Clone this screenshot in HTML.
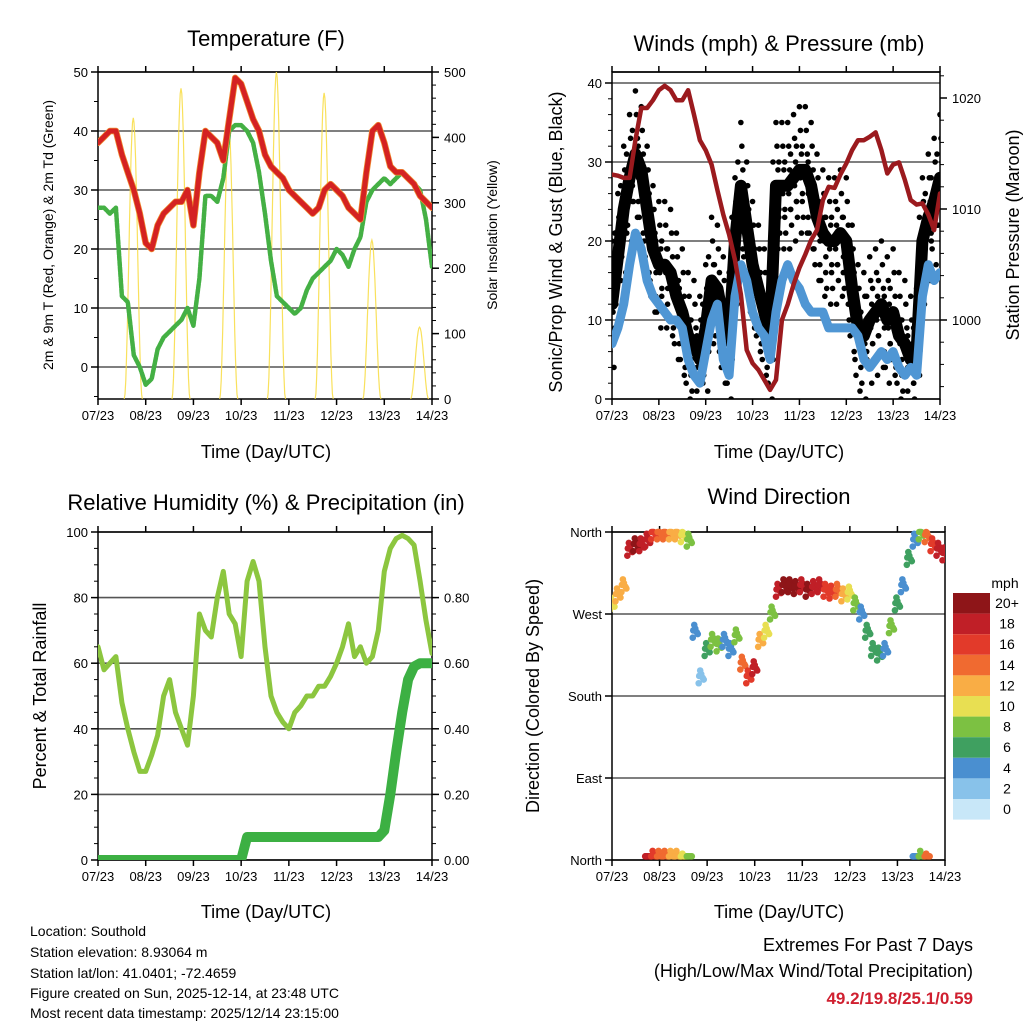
<!DOCTYPE html>
<html><head><meta charset="utf-8"><style>
html,body{margin:0;padding:0;background:#fff}
svg{display:block;font-family:"Liberation Sans",Arial,sans-serif}
</style></head><body>
<svg id="chart" width="1024" height="1024" viewBox="0 0 1024 1024" xmlns="http://www.w3.org/2000/svg">
<defs>
<clipPath id="c1"><rect x="98" y="72" width="334" height="327"/></clipPath>
<clipPath id="c2"><rect x="612" y="72" width="328" height="327"/></clipPath>
<clipPath id="c3"><rect x="98" y="532" width="334" height="328"/></clipPath>
<clipPath id="c4"><rect x="612" y="527" width="333" height="338"/></clipPath>
</defs>
<g font-size="22" text-anchor="middle" fill="#000">
<text x="266" y="46">Temperature (F)</text>
<text x="779" y="51">Winds (mph) &amp; Pressure (mb)</text>
<text x="266" y="510">Relative Humidity (%) &amp; Precipitation (in)</text>
<text x="779" y="504">Wind Direction</text>
</g>
<g font-size="18" text-anchor="middle">
<text x="266" y="458">Time (Day/UTC)</text>
<text x="779" y="458">Time (Day/UTC)</text>
<text x="266" y="918">Time (Day/UTC)</text>
<text x="779" y="918">Time (Day/UTC)</text>
<text transform="translate(53,235) rotate(-90)" font-size="14">2m &amp; 9m T (Red, Orange) &amp; 2m Td (Green)</text>
<text transform="translate(497,235) rotate(-90)" font-size="14">Solar Insolation (Yellow)</text>
<text transform="translate(562,242) rotate(-90)">Sonic/Prop Wind &amp; Gust (Blue, Black)</text>
<text transform="translate(1019,235) rotate(-90)">Station Pressure (Maroon)</text>
<text transform="translate(46,696) rotate(-90)">Percent &amp; Total Rainfall</text>
<text transform="translate(539,696) rotate(-90)">Direction (Colored By Speed)</text>
</g>
<g font-size="14">
<text x="30" y="936">Location: Southold</text>
<text x="30" y="957">Station elevation: 8.93064 m</text>
<text x="30" y="978">Station lat/lon: 41.0401; -72.4659</text>
<text x="30" y="998">Figure created on Sun, 2025-12-14, at 23:48 UTC</text>
<text x="30" y="1018">Most recent data timestamp: 2025/12/14 23:15:00</text>
</g>
<g font-size="18" text-anchor="end">
<text x="973" y="951">Extremes For Past 7 Days</text>
<text x="973" y="977">(High/Low/Max Wind/Total Precipitation)</text>
<text x="973" y="1004" font-size="17" font-weight="bold" fill="#d02030">49.2/19.8/25.1/0.59</text>
</g>
<g id="layer"></g>
</svg>
<script>
const dayLabels=['07/23','08/23','09/23','10/23','11/23','12/23','13/23','14/23'];
const tempRed=[38,39,40,40,36,33,30,26,21,20,24,26,27,28,28,30,24,33,40,39,38,35,42,49,48,45,42,40,36,34,33,32,30,29,28,27,26,27,30,31,30,29,27,26,25,33,40,41,38,34,33,33,32,31,29,28,27];
const dewGreen=[27,27,26,27,12,11,2,0,-3,-2,3,5,6,7,8,10,7,15,29,29,28,32,40,41,41,40,38,33,26,18,12,11,10,9,10,13,15,16,17,18,20,19,17,20,22,28,30,31,32,31,32,33,32,31,30,25,17];
const solarPeak=[430,475,420,500,468,243,110];
const windSpeed=[7,9,12,17,21,19,15,13,12,11,10,10,9,5,3,2,6,10,12,5,3,13,17,15,11,9,8,5,11,15,17,15,14,12,11,11,11,9,9,9,9,9,8,5,4,5,6,5,6,4,3,4,3,13,17,15,16];
const gustSpeed=[12,18,24,28,31,29,24,19,17,17,16,13,11,8,7,5,9,15,14,10,8,20,27,22,17,14,11,8,27,27,27,28,29,29,27,23,21,20,20,21,20,14,9,8,10,11,12,10,11,8,7,5,6,20,23,25,28];
const pressureMb=[1013.1,1013.0,1012.8,1012.8,1016.2,1019.1,1019.1,1019.8,1020.7,1021.1,1020.7,1019.8,1019.8,1020.7,1018.5,1016.2,1015.3,1014.0,1011.7,1009.5,1007.7,1005.4,1002.3,997.3,996.1,995.5,994.6,993.7,994.6,1000.0,1001.4,1003.2,1004.7,1005.9,1007.2,1008.1,1010.8,1012.0,1011.9,1013.1,1014.1,1015.3,1016.2,1016.2,1016.5,1016.9,1015.3,1013.2,1014.0,1014.2,1012.6,1010.8,1010.4,1010.5,1009.5,1008.1,1011.4];
const rhPct=[65,58,60,62,48,40,33,27,27,32,38,50,55,45,40,35,50,75,70,68,80,88,75,72,62,85,91,85,65,50,45,42,40,45,47,50,50,53,53,56,60,65,72,62,65,60,62,70,88,95,98,99,98,96,85,73,63];
const precipIn=[0,0,0,0,0,0,0,0,0,0,0,0,0,0,0,0,0,0,0,0,0,0,0,0,0,0.07,0.07,0.07,0.07,0.07,0.07,0.07,0.07,0.07,0.07,0.07,0.07,0.07,0.07,0.07,0.07,0.07,0.07,0.07,0.07,0.07,0.07,0.07,0.09,0.2,0.33,0.45,0.55,0.59,0.6,0.6,0.6];
const dirDeg=[280,290,300,340,345,345,350,358,358,358,358,358,355,350,250,200,230,240,235,240,230,245,215,200,210,240,250,270,295,300,300,298,300,295,298,300,295,293,295,290,292,280,270,250,230,225,230,255,280,300,330,350,358,355,345,340,335];
const dirSpd=[10,11,12,18,20,18,18,16,14,13,12,12,10,8,3,2,6,7,8,3,4,8,14,16,17,12,10,8,18,20,19,20,18,19,18,17,16,15,14,12,10,8,4,6,6,5,4,8,6,3,6,4,8,14,16,18,18];
const tLeftTicks=[0,10,20,30,40,50];
const tRightTicks=[0,100,200,300,400,500];
const wLeftTicks=[0,10,20,30,40];
const pRightTicks=[1000,1010,1020];
const rhTicks=[0,20,40,60,80,100];
const prTicks=['0.00','0.20','0.40','0.60','0.80'];
const dirTicks=['North','East','South','West','North'];
const legendLabels=['20+','18','16','14','12','10','8','6','4','2','0'];

const NS='http://www.w3.org/2000/svg';
const layer=document.getElementById('layer');
function mk(tag,a,p){const e=document.createElementNS(NS,tag);for(const k in a)e.setAttribute(k,a[k]);(p||layer).appendChild(e);return e;}
const N=tempRed.length-1;
const P1={x0:98,x1:432,y0:72,y1:399}, P2={x0:612,x1:940,y0:72,y1:399}, P3={x0:98,x1:432,y0:532,y1:860}, P4={x0:612,x1:945,y0:532,y1:860};
function tx(P,i){return P.x0+i/N*(P.x1-P.x0);}
const yT=v=>367-v*5.9, yS=v=>399-v*0.654, yW=v=>399-v*7.9, yP=p=>320-(p-1000)*11.1;
const yRH=v=>860-v*3.28, yPr=v=>860-v*328, yD=d=>860-d*328/360;
const speedColors=['#8e1518','#c01f27','#e23a2a','#f06a30','#f9ad45','#e8df52','#7cc142','#3fa060','#4a8fd0','#88c2ea','#c8e7f8'];
function spdColor(s){let k=Math.round(Math.min(s,20)/2);return speedColors[10-k];}

function frame(P,name,gridVals,gy){
  const g=mk('g',{});
  
  
  gridVals.forEach(v=>{mk('line',{x1:P.x0,x2:P.x1,y1:gy(v),y2:gy(v),stroke:'#555','stroke-width':1.6},g);});
  const r=mk('rect',{x:P.x0,y:P.y0,width:P.x1-P.x0,height:P.y1-P.y0,fill:'none',stroke:'#000','stroke-width':1.5});
  
  
  const xa=mk('g',{'font-size':13,'text-anchor':'middle'});
  
  
  dayLabels.forEach((l,d)=>{const x=P.x0+d/7*(P.x1-P.x0);
    mk('line',{x1:x,x2:x,y1:P.y1,y2:P.y1+6,stroke:'#000','stroke-width':1.5},xa);
    mk('line',{x1:x,x2:x,y1:P.y0,y2:P.y0-6,stroke:'#000','stroke-width':1.5},xa);
    const t=mk('text',{x:x,y:P.y1+21},xa);t.textContent=l;});
}
function leftAxis(P,name,vals,f,labels,minorStep,minorFrom,minorTo){
  const g=mk('g',{'font-size':13,'text-anchor':'end'});
  
  
  vals.forEach((v,k)=>{const y=f(v);mk('line',{x1:P.x0-7,x2:P.x0,y1:y,y2:y,stroke:'#000','stroke-width':1.5},g);
    const t=mk('text',{x:P.x0-10,y:y+5},g);t.textContent=labels?labels[k]:v;});
  if(minorStep)for(let v=minorFrom;v<=minorTo;v+=minorStep){const y=f(v);if(y>=P.y0-1&&y<=P.y1+1)mk('line',{x1:P.x0-4,x2:P.x0,y1:y,y2:y,stroke:'#000'},g);}
}
function rightAxis(P,name,vals,f,labels,minorStep,minorFrom,minorTo){
  const g=mk('g',{'font-size':13,'text-anchor':'start'});
  
  
  vals.forEach((v,k)=>{const y=f(v);mk('line',{x1:P.x1,x2:P.x1+7,y1:y,y2:y,stroke:'#000','stroke-width':1.5},g);
    const t=mk('text',{x:P.x1+12,y:y+5},g);t.textContent=labels?labels[k]:v;});
  if(minorStep)for(let v=minorFrom;v<=minorTo;v+=minorStep){const y=f(v);if(y>=P.y0-1&&y<=P.y1+1)mk('line',{x1:P.x1,x2:P.x1+4,y1:y,y2:y,stroke:'#000'},g);}
}
function pl(P,arr,fy,attrs,clip,name){
  const pts=arr.map((v,i)=>tx(P,i).toFixed(1)+','+fy(v).toFixed(1)).join(' ');
  const e=mk('polyline',Object.assign({points:pts,fill:'none','stroke-linejoin':'round','stroke-linecap':'round','clip-path':'url(#'+clip+')'},attrs));
  
  
  return e;
}

// Panel 1
frame(P1,'temp',tLeftTicks,yT);
leftAxis(P1,'temp',tLeftTicks,yT,null,5,-5,50);
rightAxis(P1,'solar',tRightTicks,yS,null,20,0,500);
const sg=mk('g',{'clip-path':'url(#c1)'});


solarPeak.forEach((pk,d)=>{
  let pts=[];const h0=13.2,h1=22.3;
  for(let s=0;s<=24;s++){const h=h0+(h1-h0)*s/24;const v=pk*Math.pow(Math.sin(Math.PI*s/24),2);
    pts.push((P1.x0+(d+h/24)/7*(P1.x1-P1.x0)).toFixed(1)+','+yS(v).toFixed(1));}
  mk('polyline',{points:pts.join(' '),fill:'none',stroke:'#f8dc40','stroke-width':1.2,opacity:0.85},sg);
});
pl(P1,dewGreen,yT,{stroke:'#44b044','stroke-width':4.5,'stroke-dasharray':'4 1.5'},'c1','dewpoint-line');
pl(P1,tempRed,yT,{stroke:'#f08a30','stroke-width':6.5},'c1','temp-9m-line');
pl(P1,tempRed,yT,{stroke:'#d42222','stroke-width':5},'c1','temp-2m-line');

// Panel 2
frame(P2,'winds',wLeftTicks,yW);
leftAxis(P2,'winds',wLeftTicks,yW,null,2,0,40);
rightAxis(P2,'pressure',pRightTicks,yP,null,2,994,1022);
pl(P2,gustSpeed,yW,{stroke:'#000','stroke-width':12},'c2','gust-band');
const gg=mk('g',{'clip-path':'url(#c2)'});


const offs=[[-2,-6],[1,5],[3,-3],[-3,3],[0,8],[2,-8],[-1,0],[2,2],[-3,-4],[1,-1]];
gustSpeed.forEach((v,i)=>{offs.forEach(o=>{mk('circle',{cx:tx(P2,i)+o[0],cy:yW(v+o[1]),r:2.8,fill:'#000'},gg);});});
pl(P2,windSpeed,yW,{stroke:'#4f96d4','stroke-width':9},'c2','wind-speed-line');
pl(P2,pressureMb,yP,{stroke:'#9b1a1e','stroke-width':4.5},'c2','pressure-line');
mk('line',{x1:612,x2:940,y1:72,y2:72,stroke:'#000','stroke-width':1.5});

// Panel 3
frame(P3,'humidity',rhTicks,yRH);
leftAxis(P3,'humidity',rhTicks,yRH,null,5,0,100);
rightAxis(P3,'precip',[0,0.2,0.4,0.6,0.8],yPr,prTicks,0.05,0,1);
pl(P3,rhPct,yRH,{stroke:'#8cc63f','stroke-width':5},'c3','humidity-line');
pl(P3,precipIn,yPr,{stroke:'#3cb043','stroke-width':10},'c3','precip-line');

// Panel 4
frame(P4,'direction',[0,90,180,270,360],yD);
leftAxis(P4,'direction',[0,90,180,270,360],yD,dirTicks,0,0,0);
const dg=mk('g',{'clip-path':'url(#c4)'});


const doffs=[[-2.5,-6],[0,4],[2.5,-2],[-1,8],[1.5,0],[-2,2]];
dirDeg.forEach((d,i)=>{const c=spdColor(dirSpd[i]);
  doffs.forEach(o=>{const dd=d+o[1];
    mk('circle',{cx:tx(P4,i)+o[0],cy:yD(Math.min(dd,360)),r:3.3,fill:c},dg);
    if(d>=350)mk('circle',{cx:tx(P4,i)+o[0],cy:yD(Math.max(dd-360,0)+4),r:3.3,fill:c},dg);
  });});
const lg=mk('g',{});


const lt=mk('text',{x:1005,y:588,'font-size':14,'text-anchor':'middle'},lg);lt.textContent='mph';
legendLabels.forEach((l,k)=>{const y=593+k*20.6;
  mk('rect',{x:953,y:y,width:37,height:20.6,fill:speedColors[k]},lg);
  const t=mk('text',{x:1007,y:y+15,'font-size':14,'text-anchor':'middle'},lg);t.textContent=l;});
</script>
</body></html>
